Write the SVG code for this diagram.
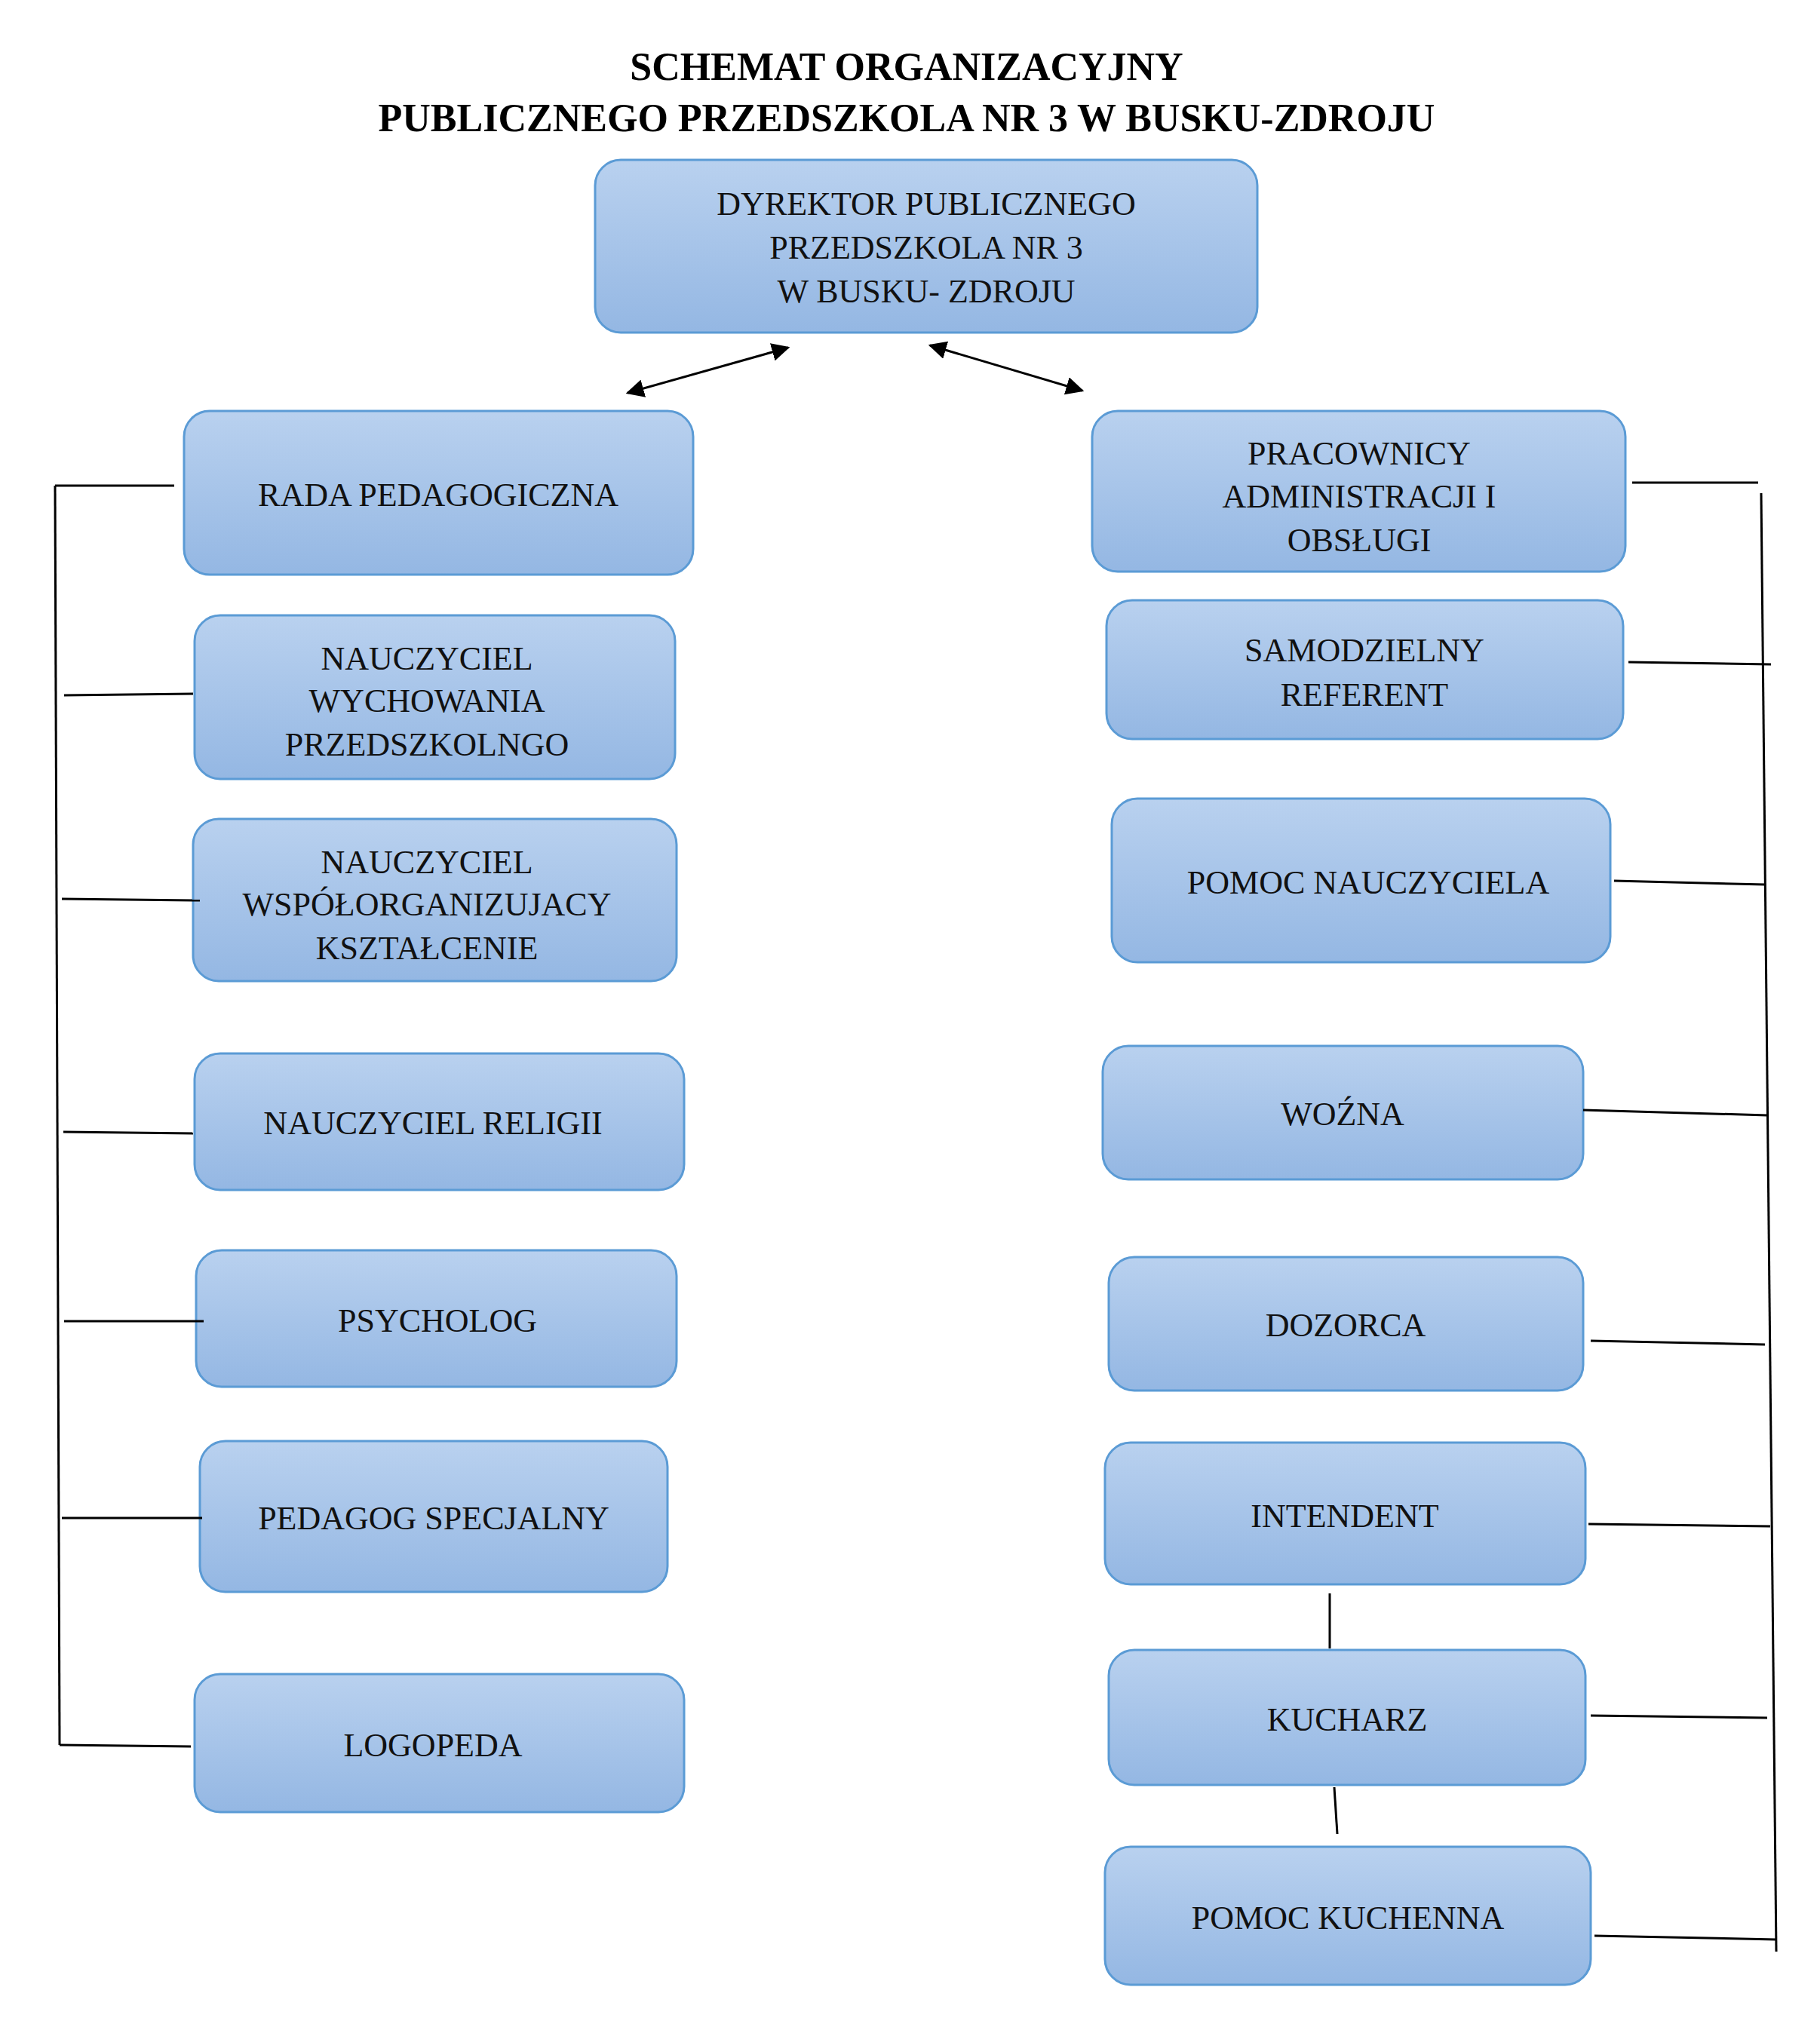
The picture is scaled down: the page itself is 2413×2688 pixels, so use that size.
<svg xmlns="http://www.w3.org/2000/svg" width="2413" height="2688" viewBox="0 0 2413 2688">
<defs>
<linearGradient id="g" x1="0" y1="0" x2="0" y2="1"><stop offset="0" stop-color="#b9d1ef"/><stop offset="1" stop-color="#94b7e3"/></linearGradient>
<marker id="a" viewBox="0 0 10 10" refX="9" refY="5" markerWidth="8" markerHeight="8" orient="auto-start-reverse"><path d="M0,0 L10,5 L0,10 z" fill="#000"/></marker>
<style>
.b{fill:url(#g);stroke:#5b9bd5;stroke-width:3}
.t{font-family:"Liberation Serif",serif;font-size:44px;fill:#111;text-anchor:middle}
.h{font-family:"Liberation Serif",serif;font-size:52px;font-weight:bold;fill:#000;text-anchor:middle}
.l{stroke:#000;stroke-width:3;fill:none}
</style>
</defs>
<rect width="2413" height="2688" fill="#fff"/>
<text class="h" x="1202" y="106">SCHEMAT ORGANIZACYJNY</text>
<text class="h" x="1202" y="174">PUBLICZNEGO PRZEDSZKOLA NR 3 W BUSKU-ZDROJU</text>
<g id="dyrektor"><rect class="b" x="789" y="212" width="878" height="229" rx="34"/><text class="t" x="1228" y="285">DYREKTOR PUBLICZNEGO</text><text class="t" x="1228" y="343">PRZEDSZKOLA NR 3</text><text class="t" x="1228" y="401">W BUSKU- ZDROJU</text></g>
<g id="rada"><rect class="b" x="244" y="545" width="675" height="217" rx="34"/><text class="t" x="581" y="671">RADA PEDAGOGICZNA</text></g>
<g id="wych"><rect class="b" x="258" y="816" width="637" height="217" rx="34"/><text class="t" x="566" y="888">NAUCZYCIEL</text><text class="t" x="566" y="944">WYCHOWANIA</text><text class="t" x="566" y="1002">PRZEDSZKOLNGO</text></g>
<g id="wsp"><rect class="b" x="256" y="1086" width="641" height="215" rx="34"/><text class="t" x="566" y="1158">NAUCZYCIEL</text><text class="t" x="566" y="1214">WSPÓŁORGANIZUJACY</text><text class="t" x="566" y="1272">KSZTAŁCENIE</text></g>
<g id="religii"><rect class="b" x="258" y="1397" width="649" height="181" rx="34"/><text class="t" x="574" y="1504">NAUCZYCIEL RELIGII</text></g>
<g id="psycholog"><rect class="b" x="260" y="1658" width="637" height="181" rx="34"/><text class="t" x="580" y="1766">PSYCHOLOG</text></g>
<g id="pedagog"><rect class="b" x="265" y="1911" width="620" height="200" rx="34"/><text class="t" x="575" y="2028">PEDAGOG SPECJALNY</text></g>
<g id="logopeda"><rect class="b" x="258" y="2220" width="649" height="183" rx="34"/><text class="t" x="574" y="2329">LOGOPEDA</text></g>
<g id="pracownicy"><rect class="b" x="1448" y="545" width="707" height="213" rx="34"/><text class="t" x="1802" y="616">PRACOWNICY</text><text class="t" x="1802" y="673">ADMINISTRACJI I</text><text class="t" x="1802" y="731">OBSŁUGI</text></g>
<g id="referent"><rect class="b" x="1467" y="796" width="685" height="184" rx="34"/><text class="t" x="1809" y="877">SAMODZIELNY</text><text class="t" x="1809" y="936">REFERENT</text></g>
<g id="pomocn"><rect class="b" x="1474" y="1059" width="661" height="217" rx="34"/><text class="t" x="1814" y="1185">POMOC NAUCZYCIELA</text></g>
<g id="wozna"><rect class="b" x="1462" y="1387" width="637" height="177" rx="34"/><text class="t" x="1780" y="1492">WOŹNA</text></g>
<g id="dozorca"><rect class="b" x="1470" y="1667" width="629" height="177" rx="34"/><text class="t" x="1784" y="1772">DOZORCA</text></g>
<g id="intendent"><rect class="b" x="1465" y="1913" width="637" height="188" rx="34"/><text class="t" x="1783" y="2025">INTENDENT</text></g>
<g id="kucharz"><rect class="b" x="1470" y="2188" width="632" height="179" rx="34"/><text class="t" x="1786" y="2295">KUCHARZ</text></g>
<g id="pomock"><rect class="b" x="1465" y="2449" width="644" height="183" rx="34"/><text class="t" x="1787" y="2558">POMOC KUCHENNA</text></g>
<g id="connectors" class="l">
<line x1="832" y1="521" x2="1045" y2="461" marker-start="url(#a)" marker-end="url(#a)"/>
<line x1="1233" y1="458" x2="1435" y2="518" marker-start="url(#a)" marker-end="url(#a)"/>
<line x1="73" y1="644" x2="79" y2="2314"/>
<line x1="73" y1="644" x2="231" y2="644"/>
<line x1="85" y1="922" x2="256" y2="920"/>
<line x1="82" y1="1192" x2="265" y2="1194"/>
<line x1="84" y1="1501" x2="256" y2="1503"/>
<line x1="85" y1="1752" x2="270" y2="1752"/>
<line x1="82" y1="2013" x2="268" y2="2013"/>
<line x1="79" y1="2314" x2="253" y2="2316"/>
<line x1="2335" y1="654" x2="2355" y2="2588"/>
<line x1="2164" y1="640" x2="2331" y2="640"/>
<line x1="2159" y1="878" x2="2348" y2="881"/>
<line x1="2140" y1="1168" x2="2340" y2="1173"/>
<line x1="2099" y1="1472" x2="2343" y2="1479"/>
<line x1="2109" y1="1778" x2="2340" y2="1783"/>
<line x1="2106" y1="2021" x2="2347" y2="2024"/>
<line x1="2109" y1="2275" x2="2343" y2="2278"/>
<line x1="2114" y1="2567" x2="2355" y2="2572"/>
<line x1="1763" y1="2113" x2="1763" y2="2186"/>
<line x1="1769" y1="2370" x2="1773" y2="2432"/>
</g>
</svg>
